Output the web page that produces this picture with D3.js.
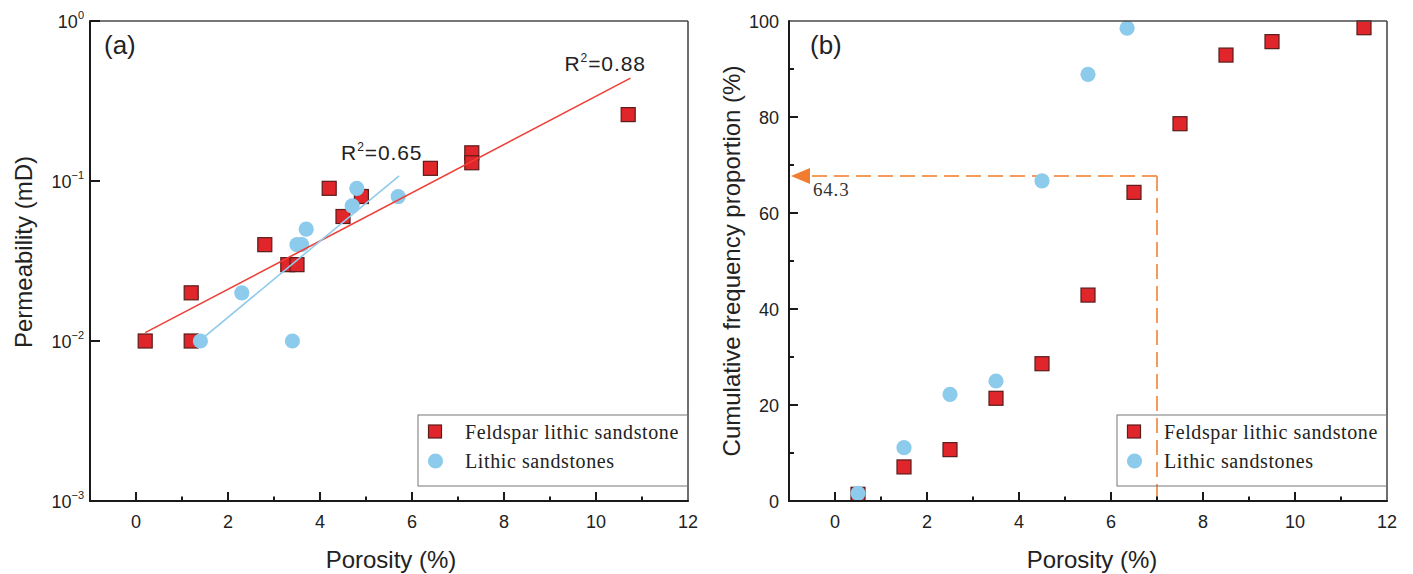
<!DOCTYPE html>
<html>
<head>
<meta charset="utf-8">
<script src="https://cdn.jsdelivr.net/npm/d3@7"></script>
<style>
  html, body { margin: 0; padding: 0; background: #fff; }
  svg { display: block; }
</style>
</head>
<body>
<svg id="chart" width="1413" height="574"></svg>
<script>
// ---------------- Data ----------------
// Panel (a): porosity (%) vs permeability (mD)
const feldsparA_phi  = [0.2, 1.2, 1.2, 2.8, 3.3, 3.5, 4.2, 4.5, 4.9, 6.4, 7.3, 7.3, 10.7];
const feldsparA_perm = [0.01, 0.02, 0.01, 0.04, 0.03, 0.03, 0.09, 0.06, 0.08, 0.12, 0.15, 0.13, 0.26];
const lithicA_phi    = [1.4, 2.3, 3.4, 3.5, 3.6, 3.7, 4.7, 4.8, 5.7];
const lithicA_perm   = [0.01, 0.02, 0.01, 0.04, 0.04, 0.05, 0.07, 0.09, 0.08];
// exponential fits: log10(k) = a + b*phi, drawn over [from, to]
const fitFeldspar = { a: -1.978, b: 0.1508, from: 0.2, to: 10.75, label: "0.88" };
const fitLithic   = { a: -2.327, b: 0.2377, from: 1.4, to: 5.72, label: "0.65" };

// Panel (b): cumulative frequency proportion (%)
const feldsparB_phi = [0.5, 1.5, 2.5, 3.5, 4.5, 5.5, 6.5, 7.5, 8.5, 9.5, 11.5];
const feldsparB_cum = [1.4, 7.1, 10.7, 21.4, 28.6, 42.9, 64.3, 78.6, 92.9, 95.7, 98.6];
const lithicB_phi   = [0.5, 1.5, 2.5, 3.5, 4.5, 5.5, 6.35];
const lithicB_cum   = [1.6, 11.1, 22.2, 25.0, 66.7, 88.9, 98.5];
const guideX = 7, guideY = 67.7, guideLabel = "64.3";

// Axis ticks
const xMajorTicks = [0, 2, 4, 6, 8, 10, 12];
const xMinorTicks = [1, 3, 5, 7, 9, 11];
const yLogTicks   = [1e-3, 1e-2, 1e-1, 1];
const yLogExp     = ["\u22123", "\u22122", "\u22121", "0"];
const yLinMajor   = [0, 20, 40, 60, 80, 100];
const yLinMinor   = [10, 30, 50, 70, 90];

const seriesNames = ["Feldspar lithic sandstone", "Lithic sandstones"];

// ---------------- Style ----------------
const RED = "#E0262A", RED_STROKE = "#5a1c1c", BLUE = "#8CCBEB";
const RED_LINE = "#EE4038", BLUE_LINE = "#8FCBEA";
const ORANGE = "#F39A5C", ORANGE_ARROW = "#F07C30";
const SANS = "Arial, 'Liberation Sans', Helvetica, sans-serif";
const SERIF = "'Times New Roman', 'Liberation Serif', serif";
const SQ = 14, R = 7.6;

const svg = d3.select("#chart");

function frame(g, L, Rr, T, B) {
  g.append("line").attr("x1", L).attr("x2", Rr).attr("y1", T).attr("y2", T)
    .attr("stroke", "#4a4a4a").attr("stroke-width", 1.6);
  g.append("line").attr("x1", Rr).attr("x2", Rr).attr("y1", T).attr("y2", B)
    .attr("stroke", "#4a4a4a").attr("stroke-width", 1.6);
  g.append("line").attr("x1", L).attr("x2", L).attr("y1", T - 0.8).attr("y2", B + 1)
    .attr("stroke", "#1a1a1a").attr("stroke-width", 2);
  g.append("line").attr("x1", L - 1).attr("x2", Rr + 0.8).attr("y1", B).attr("y2", B)
    .attr("stroke", "#1a1a1a").attr("stroke-width", 2);
}

function xAxis(g, x, B) {
  g.selectAll(null).data(xMajorTicks.filter(d => d < 12)).enter().append("line")
    .attr("x1", d => x(d)).attr("x2", d => x(d)).attr("y1", B).attr("y2", B - 9)
    .attr("stroke", "#1a1a1a").attr("stroke-width", 2);
  g.selectAll(null).data(xMinorTicks).enter().append("line")
    .attr("x1", d => x(d)).attr("x2", d => x(d)).attr("y1", B).attr("y2", B - 4.5)
    .attr("stroke", "#1a1a1a").attr("stroke-width", 2);
  g.selectAll(null).data(xMajorTicks).enter().append("text")
    .attr("x", d => x(d)).attr("y", B + 27)
    .attr("text-anchor", "middle").attr("font-family", SANS).attr("font-size", 18)
    .attr("fill", "#222").text(d => d);
}

function squares(g, xs, ys, x, y) {
  g.selectAll(null).data(xs.map((d, i) => [d, ys[i]])).enter().append("rect")
    .attr("x", d => x(d[0]) - SQ / 2).attr("y", d => y(d[1]) - SQ / 2)
    .attr("width", SQ).attr("height", SQ)
    .attr("fill", RED).attr("stroke", RED_STROKE).attr("stroke-width", 1.2);
}
function circles(g, xs, ys, x, y) {
  g.selectAll(null).data(xs.map((d, i) => [d, ys[i]])).enter().append("circle")
    .attr("cx", d => x(d[0])).attr("cy", d => y(d[1])).attr("r", R)
    .attr("fill", BLUE);
}

function legend(g, x0, x1, y0, y1) {
  g.append("rect").attr("x", x0).attr("y", y0).attr("width", x1 - x0).attr("height", y1 - y0)
    .attr("fill", "none").attr("stroke", "#777").attr("stroke-width", 1);
  g.append("rect").attr("x", x0 + 17 - SQ / 2 + 0.5).attr("y", y0 + 17 - SQ / 2)
    .attr("width", SQ - 1).attr("height", SQ - 1)
    .attr("fill", RED).attr("stroke", RED_STROKE).attr("stroke-width", 1.2);
  g.append("circle").attr("cx", x0 + 17.5).attr("cy", y0 + 46).attr("r", R)
    .attr("fill", BLUE);
  seriesNames.forEach((s, i) => {
    g.append("text").attr("x", x0 + 47).attr("y", y0 + 23.5 + i * 29)
      .attr("font-family", SERIF).attr("font-size", 20).attr("letter-spacing", 0.6)
      .attr("fill", "#222").text(s);
  });
}

// ---------------- Panel (a) ----------------
{
  const L = 90, Rr = 688, T = 21, B = 501;
  const x = d3.scaleLinear().domain([-1, 12]).range([L, Rr]);
  const y = d3.scaleLog().domain([1e-3, 1]).range([B, T]);
  const g = svg.append("g");

  squares(g, feldsparA_phi, feldsparA_perm, x, y);
  circles(g, lithicA_phi, lithicA_perm, x, y);

  const line = d3.line().x(d => x(d[0])).y(d => y(d[1]));
  [[fitFeldspar, RED_LINE], [fitLithic, BLUE_LINE]].forEach(([f, c]) => {
    const pts = [f.from, f.to].map(p => [p, Math.pow(10, f.a + f.b * p)]);
    g.append("path").attr("d", line(pts)).attr("fill", "none")
      .attr("stroke", c).attr("stroke-width", 1.6);
  });

  // R² labels
  function r2(xp, yp, val) {
    const t = g.append("text").attr("x", xp).attr("y", yp)
      .attr("font-family", SANS).attr("font-size", 21).attr("letter-spacing", 0.9)
      .attr("fill", "#222");
    t.append("tspan").text("R");
    t.append("tspan").attr("dy", -9).attr("font-size", 12).text("2");
    t.append("tspan").attr("dy", 9).text("=" + val);
  }
  const endF = [fitFeldspar.to, Math.pow(10, fitFeldspar.a + fitFeldspar.b * fitFeldspar.to)];
  const endL = [fitLithic.to, Math.pow(10, fitLithic.a + fitLithic.b * fitLithic.to)];
  r2(x(endF[0]) - 66, y(endF[1]) - 7, fitFeldspar.label);
  r2(x(endL[0]) - 58, y(endL[1]) - 16, fitLithic.label);

  frame(g, L, Rr, T, B);
  xAxis(g, x, B);

  // y ticks (log)
  g.selectAll(null).data(yLogTicks).enter().append("line")
    .attr("x1", L).attr("x2", L + 10).attr("y1", d => y(d)).attr("y2", d => y(d))
    .attr("stroke", "#1a1a1a").attr("stroke-width", 2);
  yLogTicks.forEach((d, i) => {
    const t = g.append("text").attr("x", L - 6).attr("y", y(d) + 7)
      .attr("text-anchor", "end").attr("font-family", SANS).attr("font-size", 18)
      .attr("fill", "#222");
    t.append("tspan").text("10");
    t.append("tspan").attr("dy", -9).attr("font-size", 11).text(yLogExp[i]);
  });

  g.append("text").attr("x", 104).attr("y", 54).attr("font-family", SANS)
    .attr("font-size", 26).attr("fill", "#222").text("(a)");

  g.append("text").attr("transform", `translate(${(L + Rr) / 2 + 2},568)`)
    .attr("text-anchor", "middle").attr("font-family", SANS).attr("font-size", 24)
    .attr("fill", "#222").text("Porosity (%)");
  g.append("text").attr("transform", `translate(32,${(T + B) / 2 - 9}) rotate(-90)`)
    .attr("text-anchor", "middle").attr("font-family", SANS).attr("font-size", 24)
    .attr("fill", "#222").text("Permeability (mD)");

  legend(g, 418, Rr, 415, 486);
}

// ---------------- Panel (b) ----------------
{
  const L = 789, Rr = 1387, T = 21, B = 501;
  const x = d3.scaleLinear().domain([-1, 12]).range([L, Rr]);
  const y = d3.scaleLinear().domain([0, 100]).range([B, T]);
  const g = svg.append("g");

  // guide lines
  const gx = x(guideX), gy = y(guideY);
  g.append("line").attr("x1", gx).attr("x2", L + 18).attr("y1", gy).attr("y2", gy)
    .attr("stroke", ORANGE).attr("stroke-width", 2).attr("stroke-dasharray", "15,7");
  g.append("line").attr("x1", gx).attr("x2", gx).attr("y1", gy).attr("y2", B)
    .attr("stroke", ORANGE).attr("stroke-width", 2).attr("stroke-dasharray", "15,7");
  g.append("path")
    .attr("d", `M${L + 2},${gy} L${L + 21},${gy - 8} L${L + 21},${gy + 8} Z`)
    .attr("fill", ORANGE_ARROW);
  g.append("text").attr("x", L + 24).attr("y", gy + 20)
    .attr("font-family", SERIF).attr("font-size", 19).attr("letter-spacing", 0.8)
    .attr("fill", "#333").text(guideLabel);

  squares(g, feldsparB_phi, feldsparB_cum, x, y);
  circles(g, lithicB_phi, lithicB_cum, x, y);

  frame(g, L, Rr, T, B);
  xAxis(g, x, B);

  g.selectAll(null).data(yLinMajor.filter(d => d > 0 && d < 100)).enter().append("line")
    .attr("x1", L).attr("x2", L + 9).attr("y1", d => y(d)).attr("y2", d => y(d))
    .attr("stroke", "#1a1a1a").attr("stroke-width", 2);
  g.selectAll(null).data(yLinMinor).enter().append("line")
    .attr("x1", L).attr("x2", L + 5).attr("y1", d => y(d)).attr("y2", d => y(d))
    .attr("stroke", "#1a1a1a").attr("stroke-width", 2);
  g.selectAll(null).data(yLinMajor).enter().append("text")
    .attr("x", L - 10).attr("y", d => y(d) + 7)
    .attr("text-anchor", "end").attr("font-family", SANS).attr("font-size", 18)
    .attr("fill", "#222").text(d => d);

  g.append("text").attr("x", 810).attr("y", 54).attr("font-family", SANS)
    .attr("font-size", 26).attr("fill", "#222").text("(b)");

  g.append("text").attr("transform", `translate(${(L + Rr) / 2 + 4},568)`)
    .attr("text-anchor", "middle").attr("font-family", SANS).attr("font-size", 24)
    .attr("fill", "#222").text("Porosity (%)");
  g.append("text").attr("transform", `translate(740,${(T + B) / 2}) rotate(-90)`)
    .attr("text-anchor", "middle").attr("font-family", SANS).attr("font-size", 24)
    .attr("fill", "#222").text("Cumulative frequency proportion (%)");

  legend(g, 1117, Rr, 415, 486);
}
</script>
</body>
</html>
